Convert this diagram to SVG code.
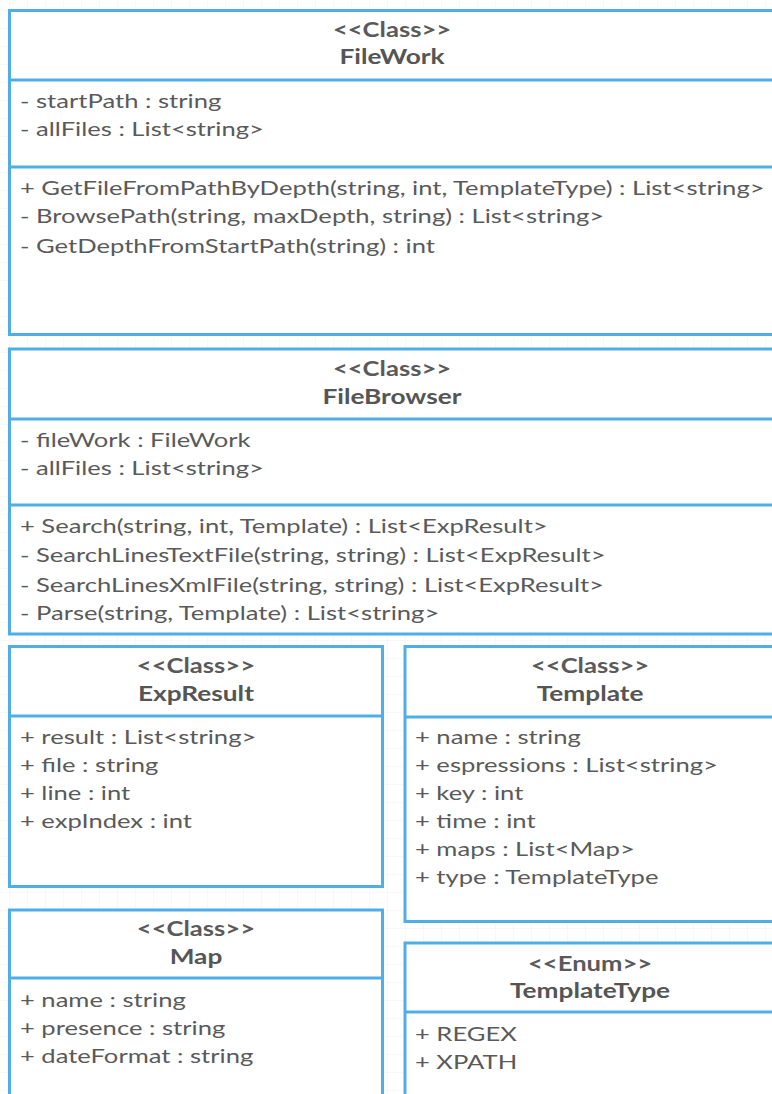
<svg xmlns="http://www.w3.org/2000/svg" width="772" height="1094" viewBox="0 0 772 1094">
<defs>
<pattern id="grid" x="9" y="10" width="18" height="18" patternUnits="userSpaceOnUse">
<path d="M18 0 L0 0 0 18" fill="none" stroke="#f1f1f1" stroke-width="1"/>
</pattern>
<style>
.box{fill:#ffffff;stroke:#4faee6;stroke-width:3}
.sep{stroke:#4faee6;stroke-width:3}
.st{font-family:Lato,"Liberation Sans",sans-serif;font-weight:bold;font-size:20px;fill:#5a5a5a;text-anchor:middle}
.nm{font-family:Lato,"Liberation Sans",sans-serif;font-weight:bold;font-size:20.5px;fill:#555555;text-anchor:middle}
.mb{font-family:Lato,"Liberation Sans",sans-serif;font-size:20px;fill:#5a5a5a}
</style>
</defs>
<rect width="772" height="1094" fill="#ffffff"/>
<rect width="772" height="1094" fill="url(#grid)"/>

<g id="FileWork">
<rect class="box" x="9.5" y="10.5" width="766" height="324"/>
<line class="sep" x1="9.5" y1="80" x2="775.5" y2="80"/>
<line class="sep" x1="9.5" y1="167" x2="775.5" y2="167"/>
<g transform="scale(1.28 1)">
<text class="st" x="306.25" y="37">&lt;&lt;Class&gt;&gt;</text>
<text class="nm" x="306.25" y="64">FileWork</text>
<text class="mb" x="15.6" y="108">- startPath : string</text>
<text class="mb" x="15.6" y="136">- allFiles : List&lt;string&gt;</text>
<text class="mb" x="15.6" y="195">+ GetFileFromPathByDepth(string, int, TemplateType) : List&lt;string&gt;</text>
<text class="mb" x="15.6" y="223">- BrowsePath(string, maxDepth, string) : List&lt;string&gt;</text>
<text class="mb" x="15.6" y="253">- GetDepthFromStartPath(string) : int</text>
</g>
</g>

<g id="FileBrowser">
<rect class="box" x="9.5" y="349" width="766" height="285"/>
<line class="sep" x1="9.5" y1="419" x2="775.5" y2="419"/>
<line class="sep" x1="9.5" y1="505" x2="775.5" y2="505"/>
<g transform="scale(1.28 1)">
<text class="st" x="306.25" y="376">&lt;&lt;Class&gt;&gt;</text>
<text class="nm" x="306.25" y="404">FileBrowser</text>
<text class="mb" x="15.6" y="447">- fileWork : FileWork</text>
<text class="mb" x="15.6" y="475">- allFiles : List&lt;string&gt;</text>
<text class="mb" x="15.6" y="533">+ Search(string, int, Template) : List&lt;ExpResult&gt;</text>
<text class="mb" x="15.6" y="562">- SearchLinesTextFile(string, string) : List&lt;ExpResult&gt;</text>
<text class="mb" x="15.6" y="592">- SearchLinesXmlFile(string, string) : List&lt;ExpResult&gt;</text>
<text class="mb" x="15.6" y="620">- Parse(string, Template) : List&lt;string&gt;</text>
</g>
</g>

<g id="ExpResult">
<rect class="box" x="9.5" y="646.5" width="373" height="240"/>
<line class="sep" x1="9.5" y1="716" x2="382.5" y2="716"/>
<g transform="scale(1.28 1)">
<text class="st" x="153.1" y="673">&lt;&lt;Class&gt;&gt;</text>
<text class="nm" x="153.1" y="701">ExpResult</text>
<text class="mb" x="15.6" y="744">+ result : List&lt;string&gt;</text>
<text class="mb" x="15.6" y="772">+ file : string</text>
<text class="mb" x="15.6" y="800">+ line : int</text>
<text class="mb" x="15.6" y="828">+ expIndex : int</text>
</g>
</g>

<g id="Template">
<rect class="box" x="405" y="646.5" width="370" height="275"/>
<line class="sep" x1="405" y1="717" x2="775" y2="717"/>
<g transform="scale(1.28 1)">
<text class="st" x="461" y="673">&lt;&lt;Class&gt;&gt;</text>
<text class="nm" x="461" y="701">Template</text>
<text class="mb" x="324.2" y="744">+ name : string</text>
<text class="mb" x="324.2" y="772">+ espressions : List&lt;string&gt;</text>
<text class="mb" x="324.2" y="800">+ key : int</text>
<text class="mb" x="324.2" y="828">+ time : int</text>
<text class="mb" x="324.2" y="856">+ maps : List&lt;Map&gt;</text>
<text class="mb" x="324.2" y="884">+ type : TemplateType</text>
</g>
</g>

<g id="Map">
<rect class="box" x="9.5" y="910" width="373" height="200"/>
<line class="sep" x1="9.5" y1="978" x2="382.5" y2="978"/>
<g transform="scale(1.28 1)">
<text class="st" x="153.1" y="936">&lt;&lt;Class&gt;&gt;</text>
<text class="nm" x="153.1" y="964">Map</text>
<text class="mb" x="15.6" y="1007">+ name : string</text>
<text class="mb" x="15.6" y="1035">+ presence : string</text>
<text class="mb" x="15.6" y="1063">+ dateFormat : string</text>
</g>
</g>

<g id="TemplateType">
<rect class="box" x="405" y="943" width="370" height="170"/>
<line class="sep" x1="405" y1="1012" x2="775" y2="1012"/>
<g transform="scale(1.28 1)">
<text class="st" x="461" y="971">&lt;&lt;Enum&gt;&gt;</text>
<text class="nm" x="461" y="998">TemplateType</text>
<text class="mb" x="324.2" y="1041">+ REGEX</text>
<text class="mb" x="324.2" y="1069">+ XPATH</text>
</g>
</g>

<g id="connectors"></g>
</svg>
